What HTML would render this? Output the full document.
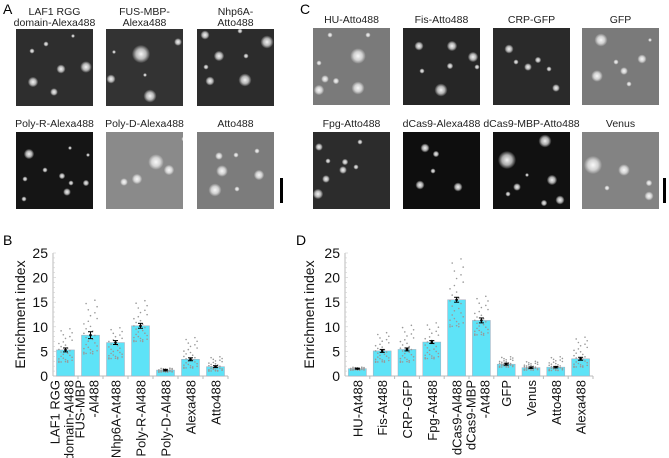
<!DOCTYPE html>
<html><head><meta charset="utf-8"><style>
body{margin:0;background:#fff;width:669px;height:458px;overflow:hidden;font-family:"Liberation Sans",sans-serif}
svg{display:block}
</style></head><body>
<svg id="fig" width="669" height="458" viewBox="0 0 669 458" font-family="Liberation Sans, sans-serif">
<defs>
<radialGradient id="dot"><stop offset="0" stop-color="#fff" stop-opacity="0.95"/><stop offset="0.55" stop-color="#fff" stop-opacity="0.65"/><stop offset="1" stop-color="#fff" stop-opacity="0"/></radialGradient>
</defs>
<g id="panels"></g>
<g id="chartB"></g>
<g id="chartD"></g>
</svg>
<script>
// ---- chart data ----
const catsB = ["LAF1 RGG|domain-Al488","FUS-MBP|-Al488","Nhp6A-At488","Poly-R-Al488","Poly-D-Al488","Alexa488","Atto488"];
const valsB = [5.3, 8.3, 6.8, 10.2, 1.2, 3.4, 1.9];
const errB = [0.4, 0.7, 0.4, 0.5, 0.15, 0.3, 0.2];
const loB = [2.8, 4.5, 3.5, 7.0, 0.8, 1.6, 1.0];
const hiB = [9.6, 15.4, 9.8, 15.3, 1.6, 7.8, 3.9];
const catsD = ["HU-At488","Fis-At488","CRP-GFP","Fpg-At488","dCas9-Al488","dCas9-MBP|-At488","GFP","Venus","Atto488","Alexa488"];
const valsD = [1.5, 5.1, 5.4, 6.9, 15.5, 11.3, 2.4, 1.7, 1.8, 3.5];
const errD = [0.1, 0.3, 0.3, 0.3, 0.5, 0.5, 0.2, 0.15, 0.15, 0.3];
const loD = [1.2, 2.8, 2.8, 3.5, 10.0, 8.3, 1.8, 1.2, 1.1, 1.8];
const hiD = [1.8, 8.8, 10.3, 10.8, 23.8, 16.2, 3.9, 3.0, 3.9, 7.9];
const yTicks = [0,5,10,15,20,25];

const NS="http://www.w3.org/2000/svg";
function mk(tag,attrs,parent){const e=document.createElementNS(NS,tag);for(const k in attrs)e.setAttribute(k,attrs[k]);parent.appendChild(e);return e;}

function drawChart(gid, cats, vals, errs, lo, hi, x0, x1, letter, lx, titleX){
  const g=document.getElementById(gid);
  
  
  const yTop=253, yBot=376;
  const y=v=>yBot-(v/25)*(yBot-yTop);
  const band=(x1-x0)/cats.length;
  const xc=i=>x0+band*(i+0.5);
  const L=mk('text',{x:lx,y:245,'font-size':14},g);L.textContent=letter;
  
  
  const ax=mk('line',{x1:x0,y1:yTop,x2:x0,y2:yBot,stroke:'#bbb','stroke-width':1},g);
  
  
  const bx=mk('line',{x1:x0,y1:yBot,x2:x1,y2:yBot,stroke:'#bbb','stroke-width':1},g);
  
  
  for(let v=0;v<=25;v++){mk('line',{x1:x0,x2:x0+(v%5===0?3:2),y1:y(v),y2:y(v),stroke:'#ccc','stroke-width':0.6},g);}
  yTicks.forEach(t=>{const e=mk('text',{x:x0-5,y:y(t)+5,'font-size':14,'text-anchor':'end',fill:'#111'},g);e.textContent=t;
    
    });
  const tt=mk('text',{transform:`translate(${titleX},${(yTop+yBot)/2}) rotate(-90)`,'font-size':14,'text-anchor':'middle',fill:'#111'},g);
  tt.textContent='Enrichment index';
  
  
  cats.forEach((c,i)=>{
    const bw=18, cx=xc(i);
    mk('line',{x1:x0+band*(i+1),x2:x0+band*(i+1),y1:yBot,y2:yBot+3,stroke:'#bbb'},g);
    const r=mk('rect',{x:cx-bw/2,y:y(vals[i]),width:bw,height:yBot-y(vals[i]),fill:'#5ee3f7',stroke:'#aab','stroke-width':0.5},g);
    
    
    const n=30;
    for(let k=0;k<n;k++){
      const f=((k*11)%n)/(n-1);
      const v=lo[i]+(hi[i]-lo[i])*Math.pow(f,1.8);
      const dx=((k%7)-3)*2.2;
      mk('circle',{cx:cx+dx,cy:y(v),r:0.8,fill:'#999'},g);
    }
    const e=errs[i];
    mk('line',{x1:cx,x2:cx,y1:y(vals[i]+e),y2:y(vals[i]-e),stroke:'#000','stroke-width':1},g);
    mk('line',{x1:cx-2.5,x2:cx+2.5,y1:y(vals[i]+e),y2:y(vals[i]+e),stroke:'#000'},g);
    mk('line',{x1:cx-2.5,x2:cx+2.5,y1:y(vals[i]-e),y2:y(vals[i]-e),stroke:'#000'},g);
    mk('circle',{cx:cx,cy:y(vals[i]),r:1.3,fill:'#000'},g);
    const lines=c.split('|');
    lines.forEach((ln,j)=>{
      const base=lines.length===2?(j===0?cx-6:cx+8):cx+5;
      const t=mk('text',{transform:`translate(${base},${yBot+4}) rotate(-90)`,'font-size':13,'text-anchor':'end',fill:'#111'},g);
      t.textContent=ln;
      
      
    });
  });
}
drawChart('chartB',catsB,valsB,errB,loB,hiB,53,228,'B',3,25);
drawChart('chartD',catsD,valsD,errD,loD,hiD,345,593,'D',296,314);

// ---- microscopy panels ----
const P=document.getElementById('panels');
const tiles=[
 {x:16,y:29,t:["LAF1 RGG","domain-Alexa488"],bg:'#2e2e2e',d:[[16,22,2],[30,15,2],[45,40,3.5],[70,38,4.5],[17,53,4],[38,63,3],[57,7,1.5]]},
 {x:106,y:29,t:["FUS-MBP-","Alexa488"],bg:'#333',d:[[35,25,7],[5,50,3.5],[44,67,5],[72,13,3],[39,46,1.5],[8,23,1.5]]},
 {x:197,y:29,t:["Nhp6A-","Atto488"],bg:'#2c2c2c',d:[[8,6,3.5],[70,13,5],[22,27,4],[43,2,2],[9,38,2],[48,51,5],[13,52,3.5],[49,27,2]]},
 {x:16,y:132,t:["Poly-R-Alexa488"],bg:'#151515',d:[[13,22,4],[29,38,2],[46,44,2.5],[55,51,2],[51,60,3],[9,47,2],[8,67,2],[54,16,1.5],[72,23,1.5],[70,51,2.5]]},
 {x:106,y:132,t:["Poly-D-Alexa488"],bg:'#8a8a8a',d:[[50,30,6],[63,38,4],[31,47,4],[18,50,3],[78,7,2]]},
 {x:197,y:132,t:["Atto488"],bg:'#7c7c7c',d:[[22,24,3],[25,39,4.5],[18,58,5],[62,43,4],[40,57,2],[39,23,2],[60,19,2]]},
 {x:313,y:28,t:["HU-Atto488"],bg:'#7a7a7a',d:[[45,28,6],[45,60,5],[12,51,3],[23,53,2.5],[6,35,2],[17,7,2],[6,62,4],[55,7,2]]},
 {x:403,y:28,t:["Fis-Atto488"],bg:'#262626',d:[[16,18,3.5],[49,18,4],[70,29,4],[38,62,5],[47,38,2.5],[19,43,2],[74,39,2]]},
 {x:493,y:28,t:["CRP-GFP"],bg:'#2a2a2a',d:[[16,21,3.5],[45,32,2.5],[35,39,3],[63,60,3],[23,34,2],[56,41,2]]},
 {x:582,y:28,t:["GFP"],bg:'#7a7a7a',d:[[19,12,5],[15,48,4.5],[42,43,3],[60,31,3.5],[34,34,2],[47,56,2],[68,12,1.5]]},
 {x:313,y:132,t:["Fpg-Atto488"],bg:'#2c2c2c',d:[[6,15,3],[5,62,4],[32,30,2.5],[30,38,3],[15,29,2],[13,47,3],[43,35,2],[47,10,2]]},
 {x:403,y:132,t:["dCas9-Alexa488"],bg:'#0e0e0e',d:[[22,16,3.5],[33,22,2.5],[17,53,3.5],[55,55,3.5],[30,39,2]]},
 {x:493,y:132,t:["dCas9-MBP-Atto488"],bg:'#111',d:[[14,28,7],[52,9,5],[59,48,4],[67,68,3.5],[24,55,3],[51,71,2.5],[15,62,2],[34,43,1.5]]},
 {x:582,y:132,t:["Venus"],bg:'#838383',d:[[11,33,7],[42,38,4.5],[67,51,2.5],[67,64,3.5],[25,56,2]]},
];
tiles.forEach((tl,i)=>{
  const g=mk('g',{},P);
  
  
  mk('rect',{x:tl.x,y:tl.y,width:77,height:77,fill:tl.bg},g);
  tl.d.forEach(d=>mk('circle',{cx:tl.x+d[0],cy:tl.y+d[1],r:d[2]*1.3,fill:'url(#dot)'},g));
  tl.t.forEach((s,j)=>{
    const ty=tl.t.length===2?tl.y-14+j*11:tl.y-5;
    const t=mk('text',{x:tl.x+38.5,y:ty,'font-size':10.5,'text-anchor':'middle',fill:'#222'},g);
    t.textContent=s;
    
    
  });
});
[[280,178],[663,178]].forEach(p=>{const r=mk('rect',{x:p[0],y:p[1],width:3,height:25,fill:'#000'},P);
  
  });
[['A',3,14],['C',300,14]].forEach(p=>{const t=mk('text',{x:p[1],y:p[2],'font-size':14},P);t.textContent=p[0];
  
  });
</script>
</body></html>
